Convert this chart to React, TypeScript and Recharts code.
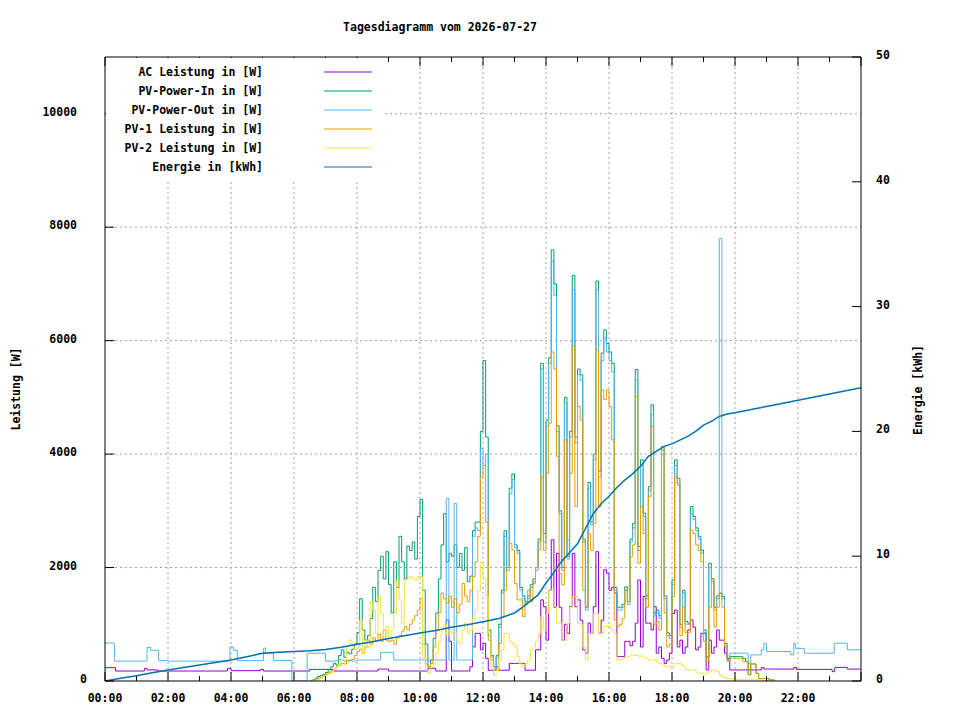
import React from "react";
import { LineChart, Line, XAxis, YAxis, CartesianGrid, Legend } from "recharts";

const FONT = '"DejaVu Sans Mono", "Liberation Mono", monospace';

// ---------- data ----------
const titleText = "Tagesdiagramm vom 2026-07-27";
const hourTicks = [0, 1, 2, 3, 4, 5, 6, 7, 8, 9, 10, 11, 12, 13, 14, 15, 16, 17, 18, 19, 20, 21, 22, 23, 24];
const powerTicks = [0, 2000, 4000, 6000, 8000, 10000];
const energyTicks = [0, 10, 20, 30, 40, 50];
const gridHours = [2, 4, 6, 8, 10, 12, 14, 16, 18, 20, 22];
const gridPower = [2000, 4000, 6000, 8000, 10000];

// daytime values every 5 minutes from 06:30 to 21:15
const dayStart = "06:30";
const stepMinutes = 5;

const acDay = [
  [205, 205, 205, 205, 205, 205],
  [205, 205, 205, 176, 176, 176, 176, 176, 176, 176, 176, 176],
  [176, 176, 176, 176, 176, 176, 176, 176, 210, 210, 210, 210],
  [176, 176, 176, 176, 176, 176, 176, 176, 176, 176, 176, 176],
  [176, 176, 176, 225, 225, 225, 176, 176, 176, 176, 1075, 700],
  [176, 176, 176, 176, 176, 176, 176, 250, 600, 840, 840, 550],
  [665, 400, 190, 190, 190, 250, 190, 190, 190, 190, 310, 310],
  [310, 310, 310, 310, 190, 190, 190, 190, 550, 550, 1430, 1310],
  [720, 1600, 2490, 1300, 2250, 1300, 720, 1000, 840, 1310, 2250, 1310],
  [1430, 1070, 550, 490, 1020, 840, 1310, 2280, 840, 1070, 1960, 1900],
  [1600, 1650, 1550, 430, 430, 430, 700, 700, 620, 700, 1020, 1780],
  [600, 1490, 1020, 1020, 900, 1310, 490, 600, 400, 310, 370, 490],
  [1190, 1250, 600, 720, 490, 600, 900, 1075, 950, 550, 600, 840],
  [840, 195, 720, 490, 600, 900, 720, 720, 490, 400, 195, 195],
  [195, 195, 195, 195, 195, 195, 195, 195, 195, 195, 235, 210],
  [210, 210, 210, 210],
];

const pvInDay = [
  [0, 20, 50, 80, 100, 120],
  [150, 200, 250, 310, 280, 450, 550, 420, 500, 480, 560, 650],
  [850, 1450, 900, 720, 800, 1100, 1650, 1400, 1950, 2200, 1800, 2280],
  [1700, 1200, 2100, 1650, 2550, 2100, 1800, 2380, 2300, 2450, 2150, 2900],
  [3200, 1600, 650, 250, 370, 750, 1200, 1800, 2400, 2950, 2100, 2250],
  [2200, 2400, 2000, 2250, 1950, 2350, 1750, 1850, 2650, 2800, 2800, 4400],
  [5650, 4300, 900, 450, 250, 450, 1000, 1600, 2650, 2000, 3400, 3650],
  [2400, 2300, 1650, 1500, 1400, 1500, 1700, 1800, 2000, 2500, 5600, 2600],
  [4600, 5700, 7600, 7000, 4500, 3000, 2000, 5000, 2200, 4400, 7150, 4300],
  [5500, 5400, 2500, 1300, 3500, 2800, 4000, 7050, 3700, 5780, 6190, 5950],
  [5800, 5600, 1650, 1300, 1300, 1350, 1660, 1400, 2500, 2780, 5490, 2370],
  [3900, 2960, 1500, 3430, 4870, 1200, 1250, 1150, 4130, 1500, 850, 800],
  [1780, 3900, 3575, 1000, 1600, 1050, 1020, 3075, 2900, 2700, 2550, 2310],
  [900, 430, 2075, 1800, 1300, 1500, 1550, 1490, 660, 370, 430, 430],
  [430, 430, 430, 400, 340, 110, 300, 300, 135, 45, 45, 45],
  [45, 18, 18, 0],
];

const pvOutDay = [
  [490, 490, 490, 490, 490, 490],
  [350, 350, 350, 350, 360, 380, 370, 350, 350, 360, 350, 350],
  [370, 370, 370, 370, 370, 370, 370, 370, 370, 505, 505, 505],
  [505, 505, 370, 370, 370, 370, 370, 370, 370, 370, 370, 370],
  [370, 370, 370, 370, 370, 370, 370, 370, 370, 370, 3220, 370],
  [370, 3130, 370, 370, 370, 370, 370, 370, 2550, 2700, 2650, 4100],
  [3800, 4000, 800, 420, 230, 420, 950, 1550, 2550, 1950, 3300, 3550],
  [2350, 2250, 1600, 1450, 1350, 1450, 1650, 1750, 1950, 2450, 5500, 2450],
  [4500, 5600, 7400, 6800, 4400, 2950, 1950, 4900, 2150, 4300, 6900, 4200],
  [5400, 5300, 2450, 1250, 3400, 2750, 3900, 6900, 3600, 5650, 6050, 5800],
  [5650, 5450, 1600, 1250, 1250, 1300, 1600, 1350, 2450, 2700, 5300, 2300],
  [3800, 2900, 1450, 3350, 4700, 1150, 1200, 1100, 4000, 1450, 800, 750],
  [1700, 3800, 3450, 950, 1550, 1000, 1000, 2950, 2850, 2650, 2500, 2250],
  [850, 400, 2000, 1750, 1250, 1450, 7800, 1450, 620, 350, 490, 490],
  [490, 490, 490, 490, 490, 310, 460, 460, 460, 460, 550, 665],
  [520, 520, 520, 520],
];

const pv1Day = [
  [0, 10, 30, 50, 70, 90],
  [120, 150, 180, 200, 250, 280, 310, 300, 360, 370, 380, 450],
  [520, 560, 490, 600, 720, 650, 760, 700, 820, 700, 900, 720],
  [700, 720, 650, 760, 800, 880, 960, 900, 1000, 1075, 1150, 1250],
  [1450, 650, 300, 250, 310, 600, 900, 1200, 1550, 1450, 1370, 1490],
  [1300, 1450, 1200, 1350, 1720, 1500, 1400, 1600, 1840, 2100, 2550, 3600],
  [3800, 2800, 720, 370, 190, 190, 660, 1135, 1600, 2000, 2430, 2310],
  [1720, 1430, 1430, 1135, 1370, 1600, 1400, 1720, 2000, 2310, 3600, 2300],
  [3660, 4545, 5800, 5500, 3960, 1900, 1700, 4250, 2490, 3660, 5900, 3075],
  [4840, 4600, 1600, 1310, 2600, 2300, 2780, 5840, 3075, 5130, 4960, 5130],
  [4840, 4250, 1075, 960, 1000, 1100, 1600, 1400, 2190, 2400, 5015, 2075],
  [3075, 2600, 1300, 3250, 4490, 1000, 1050, 900, 4075, 1200, 600, 650],
  [1490, 3600, 3490, 800, 1300, 850, 850, 2660, 2600, 2400, 2300, 2100],
  [700, 350, 1300, 1800, 950, 1300, 1545, 1300, 600, 370, 400, 400],
  [400, 400, 400, 340, 340, 110, 300, 300, 135, 45, 45, 45],
  [45, 18, 18, 0],
];

const pv2Day = [
  [0, 5, 15, 30, 50, 75],
  [100, 135, 135, 200, 250, 300, 370, 370, 600, 720, 600, 550],
  [600, 1075, 490, 720, 600, 1400, 1250, 840, 1490, 1195, 780, 960],
  [720, 900, 1195, 1780, 1430, 1020, 1780, 1800, 1840, 1800, 1780, 1840],
  [1840, 400, 200, 135, 250, 300, 490, 700, 900, 1000, 800, 900],
  [840, 840, 700, 660, 900, 1020, 840, 900, 1100, 1250, 1600, 2100],
  [1800, 1500, 840, 250, 100, 190, 370, 550, 840, 840, 700, 660],
  [600, 430, 300, 250, 310, 370, 550, 600, 700, 840, 1135, 900],
  [1190, 1600, 1600, 1310, 1020, 1020, 720, 720, 1020, 1300, 1490, 1490],
  [1020, 1000, 600, 370, 840, 840, 1190, 1190, 840, 840, 960, 960],
  [960, 900, 840, 370, 380, 400, 420, 430, 450, 460, 450, 440],
  [440, 420, 400, 370, 370, 370, 330, 310, 300, 260, 250, 250],
  [250, 310, 310, 300, 260, 200, 195, 195, 195, 160, 140, 135],
  [120, 135, 165, 195, 195, 165, 105, 75, 50, 47, 40, 35],
  [30, 30, 30, 30, 30, 30, 30, 30, 30, 30, 20, 10],
  [5, 0, 0, 0],
];

// night parts (time, value)
const acNightBefore: [string, number][] = [
  ["00:00", 235], ["00:20", 176], ["01:15", 223], ["01:20", 195], ["01:40", 176],
  ["03:53", 223], ["04:00", 182], ["04:56", 205], ["05:02", 176],
];
const acNightAfter: [string, number][] = [
  ["21:52", 240], ["21:57", 205], ["23:05", 165], ["23:10", 240], ["23:34", 210], ["24:00", 210],
];
const pvOutNightBefore: [string, number][] = [
  ["00:00", 670], ["00:18", 350], ["01:20", 590], ["01:27", 540], ["01:42", 360], ["02:00", 350],
  ["03:58", 600], ["04:05", 540], ["04:12", 360], ["05:02", 580], ["05:06", 490], ["05:21", 360],
  ["05:56", 0], ["06:25", 490],
];
const pvOutNightAfter: [string, number][] = [
  ["21:46", 460], ["21:52", 665], ["21:55", 575], ["22:12", 490], ["23:09", 665], ["23:34", 550], ["24:00", 550],
];

const energyPoints: [string, number][] = [
  ["00:00", 0], ["00:30", 0.22], ["01:00", 0.42], ["01:30", 0.66], ["02:00", 0.88], ["02:30", 1.08],
  ["03:00", 1.28], ["03:30", 1.48], ["04:00", 1.68], ["04:30", 1.95], ["05:00", 2.22], ["05:30", 2.3],
  ["06:00", 2.36], ["06:30", 2.42], ["07:00", 2.52], ["07:30", 2.7], ["08:00", 2.94], ["08:30", 3.15],
  ["09:00", 3.4], ["09:30", 3.62], ["10:00", 3.85], ["10:30", 4.05], ["11:00", 4.3], ["11:30", 4.5],
  ["12:00", 4.75], ["12:30", 5.0], ["13:00", 5.45], ["13:15", 5.9], ["13:30", 6.4], ["13:45", 6.9],
  ["14:00", 7.85], ["14:15", 8.7], ["14:30", 9.6], ["14:45", 10.3], ["15:00", 11.0], ["15:15", 12.2],
  ["15:30", 13.4], ["15:45", 14.2], ["16:00", 14.8], ["16:15", 15.5], ["16:30", 16.1], ["16:45", 16.6],
  ["17:00", 17.2], ["17:15", 18.0], ["17:30", 18.4], ["17:45", 18.8], ["18:00", 19.0], ["18:15", 19.3],
  ["18:30", 19.6], ["18:45", 20.0], ["19:00", 20.5], ["19:15", 20.8], ["19:30", 21.2], ["19:45", 21.4],
  ["20:00", 21.5], ["21:00", 22.0], ["22:00", 22.5], ["23:00", 23.0], ["24:00", 23.5],
];

const seriesNames = [
  "AC Leistung in [W]",
  "PV-Power-In in [W]",
  "PV-Power-Out in [W]",
  "PV-1 Leistung in [W]",
  "PV-2 Leistung in [W]",
  "Energie in [kWh]",
];
const seriesColors = ["#9400d3", "#009e73", "#56b4e9", "#e69f00", "#f0e442", "#0072b2"];

// ---------- helpers ----------
const toHours = (s: string) => {
  const [h, m] = s.split(":").map(Number);
  return h + m / 60;
};
const fromPairs = (pairs: [string, number][]) => pairs.map(([s, v]) => ({ t: toHours(s), v }));
const fromDay = (rows: number[][]) =>
  rows.flat().map((v, i) => ({ t: toHours(dayStart) + (i * stepMinutes) / 60, v }));
const build = (before: [string, number][], rows: number[][], after: [string, number][]) => [
  ...fromPairs(before),
  ...fromDay(rows),
  ...fromPairs(after),
];

const acData = build(acNightBefore, acDay, acNightAfter);
const pvInData = build([], pvInDay, []);
const pvOutData = build(pvOutNightBefore, pvOutDay, pvOutNightAfter);
const pv1Data = build([], pv1Day, []);
const pv2Data = build([], pv2Day, []);
const energyData = fromPairs(energyPoints);

const pad2 = (n: number) => String(n).padStart(2, "0");

const textStyle = { fontFamily: FONT, fontSize: 11.5, fontWeight: 700 as const, fill: "#000" };

// ---------- ticks ----------
const BottomTick = (props: any) => {
  const { x, y, payload } = props;
  const h = payload.value as number;
  const major = h % 2 === 0;
  return (
    <g>
      <line x1={x} y1={y} x2={x} y2={y - (major ? 9 : 5)} stroke="#000" strokeWidth={1} />
      {major && h < 24 && (
        <text x={x} y={y + 17} textAnchor="middle" dominantBaseline="central" {...textStyle}>
          {`${pad2(h)}:00`}
        </text>
      )}
    </g>
  );
};

const TopTick = (props: any) => {
  const { x, y, payload } = props;
  const major = (payload.value as number) % 2 === 0;
  return <line x1={x} y1={y} x2={x} y2={y + (major ? 9 : 5)} stroke="#000" strokeWidth={1} />;
};

const LeftTick = (props: any) => {
  const { x, y, payload } = props;
  const v = payload.value as number;
  return (
    <g>
      <line x1={x} y1={y} x2={x + 9} y2={y} stroke="#000" strokeWidth={1} />
      <text x={v === 0 ? x - 18 : x - 28} y={y - 2} textAnchor="end" dominantBaseline="central" {...textStyle}>
        {String(v)}
      </text>
    </g>
  );
};

const MirrorTick = (props: any) => {
  const { x, y } = props;
  return <line x1={x - 9} y1={y} x2={x} y2={y} stroke="#000" strokeWidth={1} />;
};

const RightTick = (props: any) => {
  const { x, y, payload } = props;
  return (
    <g>
      <line x1={x - 9} y1={y} x2={x} y2={y} stroke="#000" strokeWidth={1} />
      <text x={x + 15} y={y - 2} textAnchor="start" dominantBaseline="central" {...textStyle}>
        {String(payload.value)}
      </text>
    </g>
  );
};

// ---------- legend ----------
const LegendBox = (props: any) => {
  const payload = ((props.payload || []) as any[])
    .slice()
    .sort((a, b) => seriesNames.indexOf(a.value) - seriesNames.indexOf(b.value));
  return (
    <div style={{ background: "#fff", width: 276, height: 121 }}>
      <svg width={276} height={121}>
        {payload.map((p, i) => (
          <g key={i}>
            <text x={157} y={14 + i * 19} textAnchor="end" dominantBaseline="central" {...textStyle}>
              {p.value}
            </text>
            <line x1={218} y1={14 + i * 19} x2={266} y2={14 + i * 19} stroke={p.color} strokeWidth={1} />
          </g>
        ))}
      </svg>
    </div>
  );
};

export default function App() {
  return (
    <div style={{ position: "absolute", left: 0, top: 0, width: 960, height: 720, background: "#fff" }}>
      <LineChart width={960} height={720} margin={{ top: 56, right: 0, bottom: 0, left: 0 }}>
        <CartesianGrid
          xAxisId="bottom"
          yAxisId="left"
          stroke="#a0a0a0"
          strokeDasharray="2 3"
          verticalValues={gridHours}
          horizontalValues={gridPower}
        />
        <XAxis
          xAxisId="bottom"
          dataKey="t"
          type="number"
          domain={[0, 24]}
          ticks={hourTicks}
          interval={0}
          allowDataOverflow
          height={39}
          tickSize={0}
          tickMargin={0}
          tickLine={false}
          axisLine={{ stroke: "#000", strokeWidth: 1 }}
          tick={<BottomTick />}
        />
        <XAxis
          xAxisId="top"
          orientation="top"
          dataKey="t"
          type="number"
          domain={[0, 24]}
          ticks={hourTicks}
          interval={0}
          allowDataOverflow
          height={1}
          tickSize={0}
          tickMargin={0}
          tickLine={false}
          axisLine={{ stroke: "#000", strokeWidth: 1 }}
          tick={<TopTick />}
        />
        <YAxis
          yAxisId="left"
          type="number"
          domain={[0, 11000]}
          ticks={powerTicks}
          interval={0}
          allowDataOverflow
          width={105}
          tickSize={0}
          tickMargin={0}
          tickLine={false}
          axisLine={{ stroke: "#000", strokeWidth: 1 }}
          tick={<LeftTick />}
        />
        <YAxis
          yAxisId="right"
          orientation="right"
          type="number"
          domain={[0, 50]}
          ticks={energyTicks}
          interval={0}
          allowDataOverflow
          width={99}
          tickSize={0}
          tickMargin={0}
          tickLine={false}
          axisLine={{ stroke: "#000", strokeWidth: 1 }}
          tick={<RightTick />}
        />
        <YAxis
          yAxisId="mirror"
          orientation="right"
          type="number"
          domain={[0, 11000]}
          ticks={powerTicks}
          interval={0}
          allowDataOverflow
          width={0}
          tickSize={0}
          tickMargin={0}
          tickLine={false}
          axisLine={false}
          tick={<MirrorTick />}
        />
        <Line xAxisId="bottom" yAxisId="left" data={acData} dataKey="v" name={seriesNames[0]} type="stepAfter" stroke={seriesColors[0]} strokeWidth={1} dot={false} isAnimationActive={false} />
        <Line xAxisId="bottom" yAxisId="left" data={pvInData} dataKey="v" name={seriesNames[1]} type="stepAfter" stroke={seriesColors[1]} strokeWidth={1} dot={false} isAnimationActive={false} />
        <Line xAxisId="bottom" yAxisId="left" data={pvOutData} dataKey="v" name={seriesNames[2]} type="stepAfter" stroke={seriesColors[2]} strokeWidth={1} dot={false} isAnimationActive={false} />
        <Line xAxisId="bottom" yAxisId="left" data={pv1Data} dataKey="v" name={seriesNames[3]} type="stepAfter" stroke={seriesColors[3]} strokeWidth={1} dot={false} isAnimationActive={false} />
        <Line xAxisId="bottom" yAxisId="left" data={pv2Data} dataKey="v" name={seriesNames[4]} type="stepAfter" stroke={seriesColors[4]} strokeWidth={1} dot={false} isAnimationActive={false} />
        <Line xAxisId="bottom" yAxisId="right" data={energyData} dataKey="v" name={seriesNames[5]} type="linear" stroke={seriesColors[5]} strokeWidth={1.5} dot={false} isAnimationActive={false} />
        <Legend
          layout="horizontal"
          verticalAlign="middle"
          align="center"
          content={<LegendBox />}
          wrapperStyle={{ left: 106, top: 58, width: 276, height: 121 }}
        />
      </LineChart>
      <svg width={960} height={720} style={{ position: "absolute", left: 0, top: 0, pointerEvents: "none" }}>
        <text x={440} y={27} textAnchor="middle" dominantBaseline="central" {...textStyle}>
          {titleText}
        </text>
        <text x={16} y={389} textAnchor="middle" dominantBaseline="central" transform="rotate(-90 16 389)" {...textStyle}>
          Leistung [W]
        </text>
        <text x={918} y={390} textAnchor="middle" dominantBaseline="central" transform="rotate(-90 918 390)" {...textStyle}>
          Energie [kWh]
        </text>
      </svg>
    </div>
  );
}
